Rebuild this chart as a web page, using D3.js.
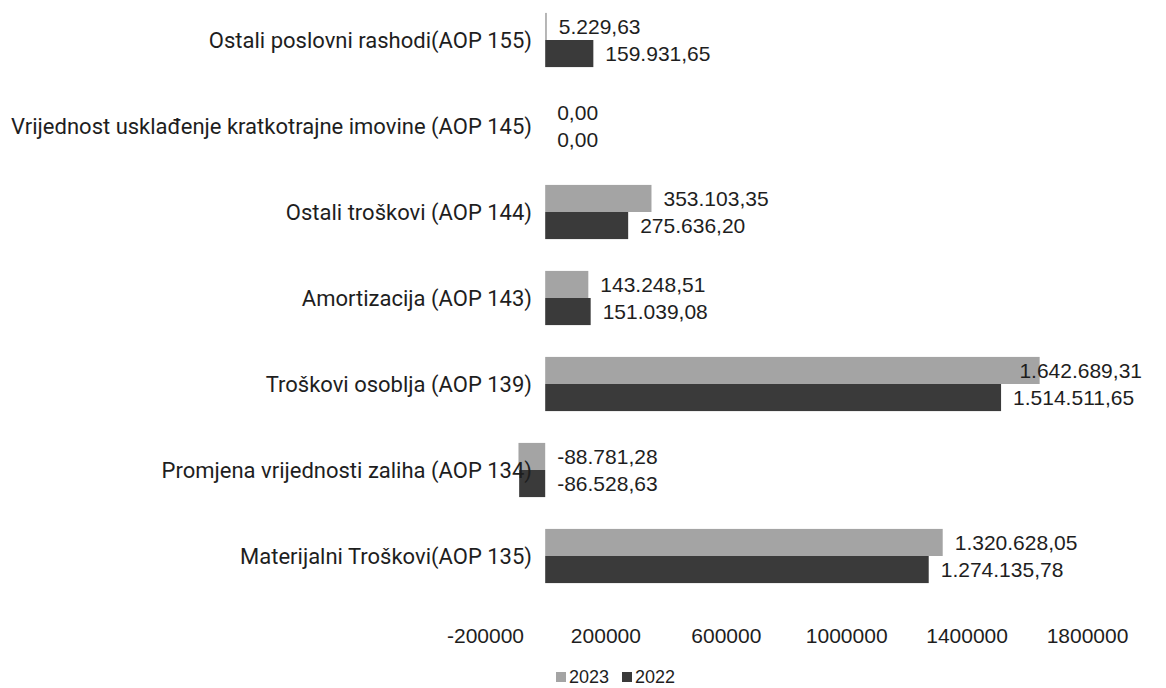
<!DOCTYPE html>
<html>
<head>
<meta charset="utf-8">
<script src="https://cdn.jsdelivr.net/npm/d3@7"></script>
<style>
  body { margin: 0; background: #fff; }
  svg text { font-family: "Liberation Sans", Arial, sans-serif; fill: #1e1e1e; }
</style>
</head>
<body>
<script>
// categories, top to bottom as in the chart
var categories = [
    "Ostali poslovni rashodi(AOP 155)",
    "Vrijednost usklađenje kratkotrajne imovine (AOP 145)",
    "Ostali troškovi (AOP 144)",
    "Amortizacija (AOP 143)",
    "Troškovi osoblja (AOP 139)",
    "Promjena vrijednosti zaliha (AOP 134)",
    "Materijalni Troškovi(AOP 135)"
];
var values2023 = [5229.63, 0, 353103.35, 143248.51, 1642689.31, -88781.28, 1320628.05];
var values2022 = [159931.65, 0, 275636.20, 151039.08, 1514511.65, -86528.63, 1274135.78];
var tickValues = [-200000, 200000, 600000, 1000000, 1400000, 1800000];
var seriesNames = ["2023", "2022"];

function init() {
    var width = 1166;
    var height = 688;

    var svg = d3.select("body").append("svg")
        .attr("width", width)
        .attr("height", height);

    var x = d3.scaleLinear()
        .domain([-200000, 1800000])
        .range([485, 1087]);

    var y = d3.scaleBand()
        .domain(categories)
        .range([-3, 599])
        .paddingInner(0.37)
        .paddingOuter(0.185);

    var inner = d3.scaleBand()
        .domain(seriesNames)
        .range([0, y.bandwidth()]);

    var colors = { "2023": "#a4a4a4", "2022": "#3a3a3a" };

    // number format like 1.320.628,05
    var locale = d3.formatLocale({ decimal: ",", thousands: ".", grouping: [3], currency: ["", ""], minus: "-" });
    var fmt = locale.format(",.2f");

    var rows = categories.map(function(c, i) {
        return { cat: c, vals: [{ s: "2023", v: values2023[i] }, { s: "2022", v: values2022[i] }] };
    });

    var groups = svg.selectAll("g.cat")
        .data(rows)
        .enter().append("g")
        .attr("class", "cat")
        .attr("transform", function(d) { return "translate(0," + y(d.cat) + ")"; });

    groups.selectAll("rect")
        .data(function(d) { return d.vals; })
        .enter().append("rect")
        .attr("x", function(d) { return x(Math.min(0, d.v)); })
        .attr("y", function(d) { return inner(d.s); })
        .attr("width", function(d) { return Math.abs(x(d.v) - x(0)); })
        .attr("height", inner.bandwidth())
        .attr("fill", function(d) { return colors[d.s]; });

    // category labels
    groups.append("text")
        .attr("x", 532)
        .attr("y", y.bandwidth() / 2)
        .attr("dy", "0.35em")
        .attr("text-anchor", "end")
        .attr("font-size", "22px")
        .style("font-family", "Roboto, 'Liberation Sans', sans-serif")
        .text(function(d) { return d.cat; });

    // value labels, kept inside the picture
    groups.selectAll("text.val")
        .data(function(d) { return d.vals; })
        .enter().append("text")
        .attr("class", "val")
        .attr("y", function(d) { return inner(d.s) + inner.bandwidth() / 2; })
        .attr("dy", "0.35em")
        .attr("font-size", "21px")
        .text(function(d) { return fmt(d.v); })
        .attr("x", function(d) {
            var w = this.getComputedTextLength();
            var px = x(Math.max(0, d.v)) + 12;
            return Math.min(px, 1142 - w);
        });

    // x axis, labels only
    var axis = svg.append("g")
        .attr("transform", "translate(0,625)")
        .call(d3.axisBottom(x).tickValues(tickValues).tickSize(0)
            .tickFormat(function(d) { return d < 0 ? "-" + Math.abs(d) : String(d); }));
    axis.select(".domain").remove();
    axis.selectAll("text")
        .attr("font-size", "21px")
        .attr("dy", "0.71em")
        .style("font-family", "'Liberation Sans', Arial, sans-serif")
        .attr("fill", "#1e1e1e");

    // legend
    var legend = svg.append("g").attr("transform", "translate(556,677)");
    var items = legend.selectAll("g")
        .data(seriesNames)
        .enter().append("g")
        .attr("transform", function(d, i) { return "translate(" + (i * 66) + ",0)"; });
    items.append("rect")
        .attr("x", 0)
        .attr("y", -5)
        .attr("width", 10)
        .attr("height", 10)
        .attr("fill", function(d) { return colors[d]; });
    items.append("text")
        .attr("x", 13)
        .attr("y", 0)
        .attr("dy", "0.35em")
        .attr("font-size", "18px")
        .text(function(d) { return d; });
}

window.onload = init;
</script>
</body>
</html>
